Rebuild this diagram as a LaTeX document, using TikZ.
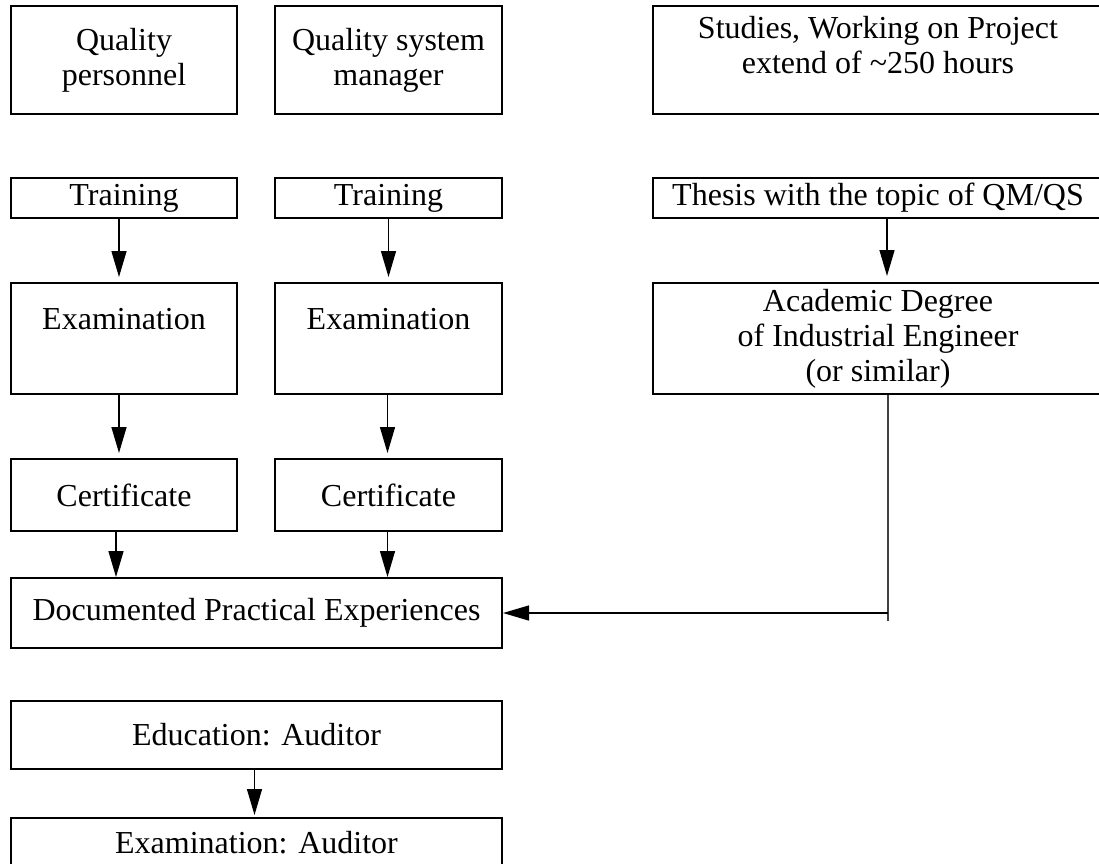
\documentclass[tikz,border=0pt]{standalone}
\usepackage{fontspec}
\setmainfont{Liberation Serif}
\usetikzlibrary{arrows.meta}

\begin{document}
\begin{tikzpicture}[x=1pt,y=1pt,
  box/.style={draw,line width=2pt,inner sep=0pt,anchor=north,align=center,
    font=\fontsize{32}{35}\selectfont},
  flow/.style={line width=1.4pt,-{Triangle[length=26pt,width=15pt]}}]
  \useasboundingbox (0,0) rectangle (1099,-863);

  % first row
  \node [box,minimum width=226,minimum height=108] (qp) at (124,-5) {Quality\\personnel};
  \node [box,minimum width=227,minimum height=108] (qsm) at (388.5,-5) {Quality system\\manager};
  \node [box,minimum width=450,text height=67pt,text depth=41pt] (stud) at (878,-5)
    {Studies, Working on Project\\extend of \textasciitilde250 hours};

  % second row
  \node [box,minimum width=226,minimum height=40] (tr1) at (124,-177) {Training};
  \node [box,minimum width=227,minimum height=40] (tr2) at (388.5,-177) {Training};
  \node [box,minimum width=450,minimum height=40] (thes) at (878,-177) {Thesis with the topic of QM/QS};

  \node [box,minimum width=226,text height=46pt,text depth=65pt] (ex1) at (124,-282) {Examination};
  \node [box,minimum width=227,text height=46pt,text depth=65pt] (ex2) at (388.5,-282) {Examination};
  \node [box,minimum width=450,minimum height=111] (acad) at (878,-282)
    {Academic Degree\\of Industrial Engineer\\(or similar)};

  \node [box,minimum width=226,minimum height=72] (cert1) at (124,-458) {Certificate};
  \node [box,minimum width=227,minimum height=72] (cert2) at (388.5,-458) {Certificate};

  \node [box,minimum width=491,minimum height=70] (doc) at (256.5,-577) {Documented Practical Experiences};

  \node [box,minimum width=491,minimum height=68] (edu) at (256.5,-700) {Education: Auditor};
  \node [box,minimum width=491,minimum height=49] (exa) at (256.5,-817) {Examination: Auditor};

  \draw [flow,shorten >=5pt] ([xshift=-5pt]tr1.south) -- ([xshift=-5pt]ex1.north);
  \draw [flow,shorten >=5pt] (tr2) -- (ex2);
  \draw [flow,shorten >=6pt] ([xshift=9pt]thes.south) -- ([xshift=9pt]acad.north);

  \draw [flow,shorten >=5pt] ([xshift=-5pt]ex1.south) -- ([xshift=-5pt]cert1.north);
  \draw [flow,shorten >=5pt] ([xshift=-1pt]ex2.south) -- ([xshift=-1pt]cert2.north);

  \draw [flow] ([xshift=-8pt]cert1.south) -- ([xshift=-8pt]cert1.south |- doc.north);
  \draw [flow] ([xshift=-1pt]cert2.south) -- ([xshift=-1pt]cert2.south |- doc.north);

  % from the degree down and across
  \draw [line width=1.2pt,black!75] ([xshift=10pt]acad.south) coordinate (drop) -- ++(0,-226);
  \draw [flow] (drop |- doc.east) -- (doc.east);

  \draw [flow,shorten >=2pt] ([xshift=-2pt]edu.south) -- ([xshift=-2pt]exa.north);
\end{tikzpicture}
\end{document}
